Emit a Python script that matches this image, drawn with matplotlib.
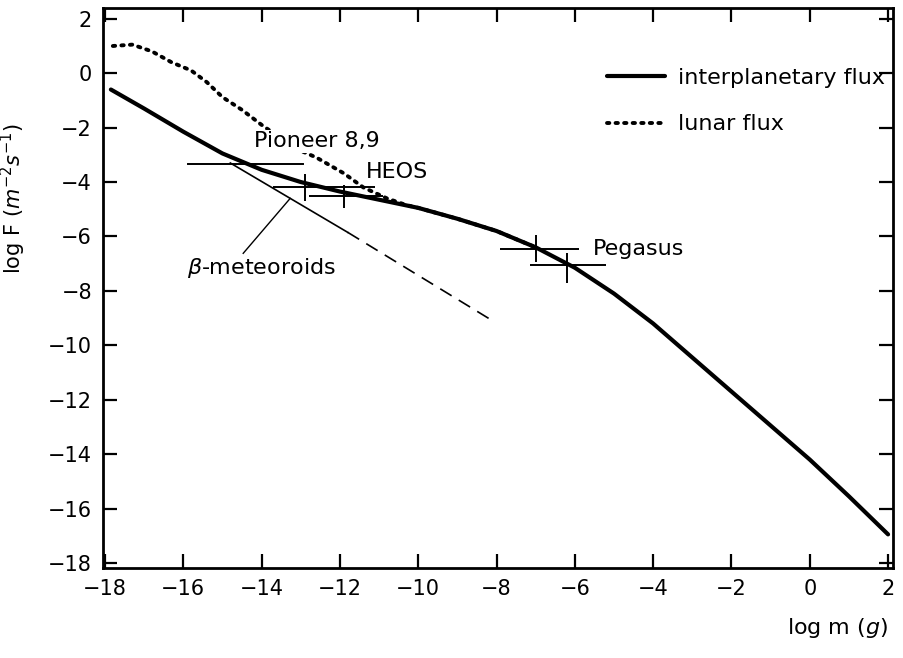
import numpy as np
import matplotlib
matplotlib.use('Agg')
import matplotlib.pyplot as plt

# interplanetary flux
m_ip = [-17.85, -17, -16, -15, -14, -13, -12, -11, -10, -9, -8, -7, -6, -5, -4, -3, -2, -1, 0, 1, 2]
f_ip = [-0.6, -1.3, -2.15, -2.95, -3.55, -4.0, -4.35, -4.65, -4.95, -5.35, -5.8, -6.4,
        -7.15, -8.1, -9.2, -10.45, -11.7, -12.95, -14.2, -15.55, -16.95]

# lunar flux
m_lun = [-17.8, -17.3, -16.8, -16.3, -15.8, -15.4, -15.0, -14.5, -14.0, -13.5, -13.0,
         -12.6, -11.9, -11.4, -10.8, -10.3, -10, -9, -8, -7]
f_lun = [1.0, 1.05, 0.8, 0.4, 0.1, -0.33, -0.88, -1.35, -1.9, -2.4, -2.85,
         -3.1, -3.68, -4.2, -4.6, -4.85, -4.95, -5.35, -5.8, -6.4]

# beta-meteoroids
m_beta = [-14.8, -11.8]
f_beta = [-3.3, -5.85]
m_beta_ext = [-11.8, -8.1]
f_beta_ext = [-5.85, -9.1]
beta_pointer_m = [-13.27, -14.47]
beta_pointer_f = [-4.6, -6.62]

# measurements: centre, x-range, y-range
pioneer_m = [-15.88, -12.94]
pioneer_f = [-3.35, -3.35]
heos_m = [-12.9, -11.9]
heos_f = [-4.2, -4.5]
heos_mlo = [-13.7, -12.8]
heos_mhi = [-11.1, -10.9]
heos_flo = [-4.7, -4.95]
heos_fhi = [-3.7, -4.1]
peg_m = [-7.0, -6.2]
peg_f = [-6.47, -7.06]
peg_mlo = [-7.9, -7.15]
peg_mhi = [-5.9, -5.2]
peg_flo = [-6.95, -7.7]
peg_fhi = [-5.95, -6.6]

xticks = list(range(-18, 3, 2))
yticks = list(range(-18, 3, 2))

plt.rcParams['font.family'] = ['DejaVu Sans']

fig = plt.figure(figsize=(9.04, 6.58), dpi=100, facecolor='w')
ax = fig.add_axes([0.114, 0.137, 0.874, 0.851])

ax.plot(m_ip, f_ip, color='k', lw=3.0, solid_capstyle='round', solid_joinstyle='round',
        label='interplanetary flux', zorder=3)
ax.plot(m_lun, f_lun, color='k', lw=2.8, linestyle=(0, (0.6, 1.6)), dash_capstyle='round',
        label='lunar flux', zorder=3)
ax.plot(m_beta, f_beta, color='k', lw=1.2)
ax.plot(m_beta_ext, f_beta_ext, color='k', lw=1.2, linestyle=(0, (8, 5)))
ax.plot(beta_pointer_m, beta_pointer_f, color='k', lw=1.0)

ax.plot(pioneer_m, pioneer_f, color='k', lw=1.4)

def crosses(mc, fc, mlo, mhi, flo, fhi):
    mc, fc = np.array(mc), np.array(fc)
    xerr = [mc - np.array(mlo), np.array(mhi) - mc]
    yerr = [fc - np.array(flo), np.array(fhi) - fc]
    ax.errorbar(mc, fc, xerr=xerr, yerr=yerr, fmt='none', ecolor='k', elinewidth=1.4, capsize=0)

crosses(heos_m, heos_f, heos_mlo, heos_mhi, heos_flo, heos_fhi)
crosses(peg_m, peg_f, peg_mlo, peg_mhi, peg_flo, peg_fhi)

ax.text(-14.2, -2.5, 'Pioneer 8,9', fontsize=16, va='center', ha='left',
        bbox=dict(facecolor='w', edgecolor='none', pad=1), zorder=4)
ax.text(-11.35, -3.64, 'HEOS', fontsize=16, va='center', ha='left')
ax.text(-5.55, -6.47, 'Pegasus', fontsize=16, va='center', ha='left')
ax.text(-14.0, -7.17, r'$\beta$-meteoroids', fontsize=16, ha='center', va='center')

ax.set_xlim(-18.05, 2.13)
ax.set_ylim(-18.18, 2.4)
ax.set_xticks(xticks)
ax.set_yticks(yticks)
ax.set_xticklabels([str(t).replace('-', '\u2212') for t in xticks])
ax.set_yticklabels([str(t).replace('-', '\u2212') for t in yticks])
ax.tick_params(direction='in', length=10, width=1.6, top=True, right=True, labelsize=15, pad=8)
for s in ax.spines.values():
    s.set_linewidth(2.0)

ax.set_ylabel(r'log F $(m^{-2}s^{-1})$', fontsize=15)
ax.yaxis.set_label_coords(-0.095, 0.66)
ax.text(0.994, -0.107, r'log m $(g)$', fontsize=16, ha='right', va='center', transform=ax.transAxes)

ax.legend(loc='upper right', bbox_to_anchor=(1.015, 0.929), frameon=False, fontsize=16,
          handlelength=2.6, handletextpad=0.6, labelspacing=1.2)

fig.savefig('out.png', dpi=100, facecolor='w')
